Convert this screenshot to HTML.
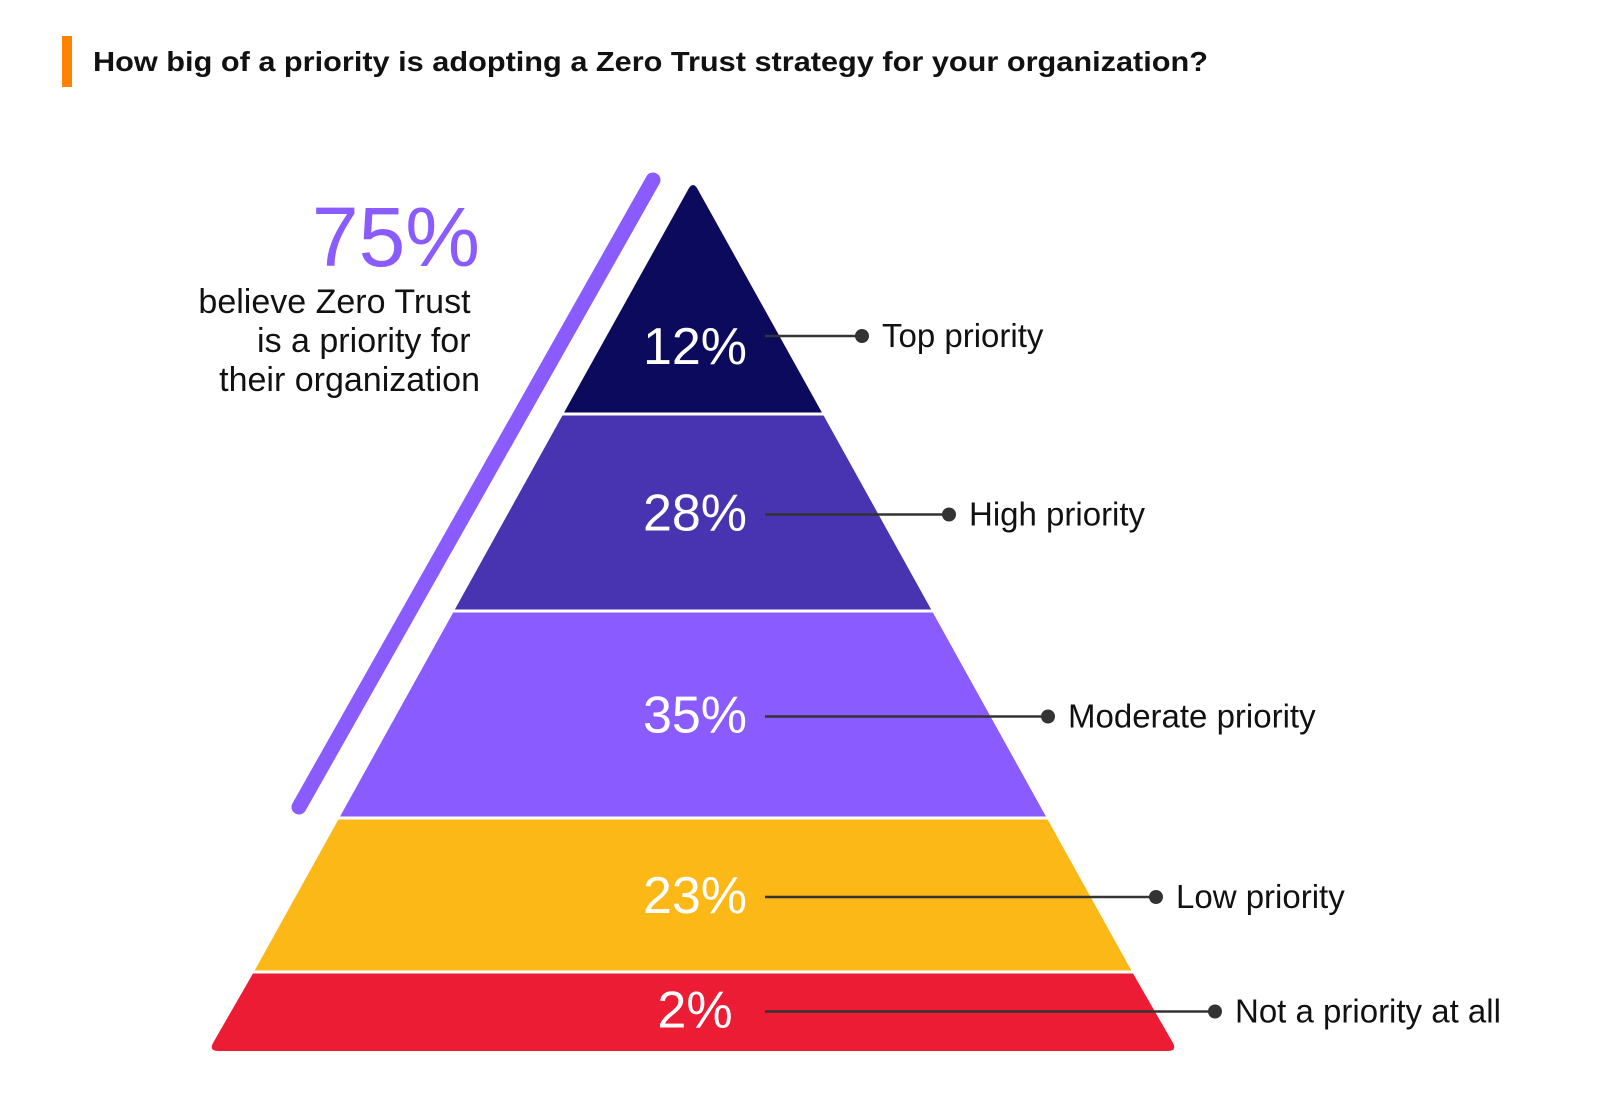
<!DOCTYPE html>
<html><head><meta charset="utf-8"><style>
html,body{margin:0;padding:0;background:#fff;}
svg{display:block;font-family:"Liberation Sans",sans-serif;}
</style></head><body>
<svg id="chart" width="1600" height="1109" viewBox="0 0 1600 1109" xmlns="http://www.w3.org/2000/svg">
<rect x="62" y="36" width="10" height="51" fill="#ff8200"/>
<text x="93" y="71" font-size="28" font-weight="bold" fill="#111" textLength="1115" lengthAdjust="spacingAndGlyphs">How big of a priority is adopting a Zero Trust strategy for your organization?</text>
<line x1="653" y1="180" x2="299" y2="807" stroke="#8a5cff" stroke-width="15" stroke-linecap="round"/>
<text x="480" y="266" font-size="84" fill="#8a5cff" text-anchor="end">75%</text>
<text font-size="34" fill="#111" text-anchor="end">
<tspan x="480" y="313">believe Zero Trust</tspan>
<tspan x="480" y="352">is a priority for</tspan>
<tspan x="480" y="391">their organization</tspan>
</text>
<g id="bands"></g>
<g id="labels"></g>
</svg>
<script>
const categories = ["Top priority","High priority","Moderate priority","Low priority","Not a priority at all"];
const values = [12, 28, 35, 23, 2];
const valueLabels = ["12%","28%","35%","23%","2%"];
const colors = ["#0b0a5c","#4834b0","#8a5cff","#fbb817","#ed1c35"];

// layout (geometry, not data)
const apexX = 693, apexY = 180, baseY = 1051, halfBase = 483;
const bandEdges = [0, 414, 611, 818, 972, 1051]; // 0 = apex
const dotX = [862, 949, 1048, 1156, 1215];
function halfWidthAt(y){ return halfBase * (y - apexY) / (baseY - apexY); }
const NS = "http://www.w3.org/2000/svg";
const bands = document.getElementById("bands");
const labels = document.getElementById("labels");
for (let i = 0; i < values.length; i++) {
  const y0 = i === 0 ? apexY : bandEdges[i] + 1.5;
  const y1 = i === values.length - 1 ? baseY : bandEdges[i+1] - 1.5;
  const w0 = halfWidthAt(y0), w1 = halfWidthAt(y1);
  let d;
  if (i === 0) {
    d = `M${apexX-4},${apexY+8} Q${apexX},${apexY+2} ${apexX+4},${apexY+8} L${apexX+w1},${y1} L${apexX-w1},${y1} Z`;
  } else if (i === values.length - 1) {
    d = `M${apexX-w0},${y0} L${apexX+w0},${y0} L${apexX+w1-3},${y1-8} Q${apexX+w1+1},${y1} ${apexX+w1-8},${y1} L${apexX-w1+8},${y1} Q${apexX-w1-1},${y1} ${apexX-w1+3},${y1-8} Z`;
  } else {
    d = `M${apexX-w0},${y0} L${apexX+w0},${y0} L${apexX+w1},${y1} L${apexX-w1},${y1} Z`;
  }
  const p = document.createElementNS(NS, "path");
  
  
  p.setAttribute("d", d);
  p.setAttribute("fill", colors[i]);
  bands.appendChild(p);

  const cy = i === 0 ? 346 : (bandEdges[i] + bandEdges[i+1]) / 2 + (i===4? -2 : 0);
  const t = document.createElementNS(NS, "text");
  
  
  t.setAttribute("x", apexX + 2);
  t.setAttribute("y", cy + 18);
  t.setAttribute("text-anchor", "middle");
  t.setAttribute("font-size", "52");
  t.setAttribute("fill", "#fff");
  t.textContent = valueLabels[i];
  labels.appendChild(t);

  const ly = i === 0 ? 336 : cy + 2;
  const ln = document.createElementNS(NS, "line");
  
  
  ln.setAttribute("x1", 765); ln.setAttribute("x2", dotX[i]);
  ln.setAttribute("y1", ly); ln.setAttribute("y2", ly);
  ln.setAttribute("stroke", "#333"); ln.setAttribute("stroke-width", "2.5");
  labels.appendChild(ln);
  const c = document.createElementNS(NS, "circle");
  
  
  c.setAttribute("cx", dotX[i]); c.setAttribute("cy", ly); c.setAttribute("r", "7");
  c.setAttribute("fill", "#333");
  labels.appendChild(c);
  const ct = document.createElementNS(NS, "text");
  
  
  ct.setAttribute("x", dotX[i] + 20);
  ct.setAttribute("y", ly + 11);
  ct.setAttribute("font-size", "33");
  ct.setAttribute("fill", "#111");
  ct.textContent = categories[i];
  labels.appendChild(ct);
}
</script>
</body></html>
